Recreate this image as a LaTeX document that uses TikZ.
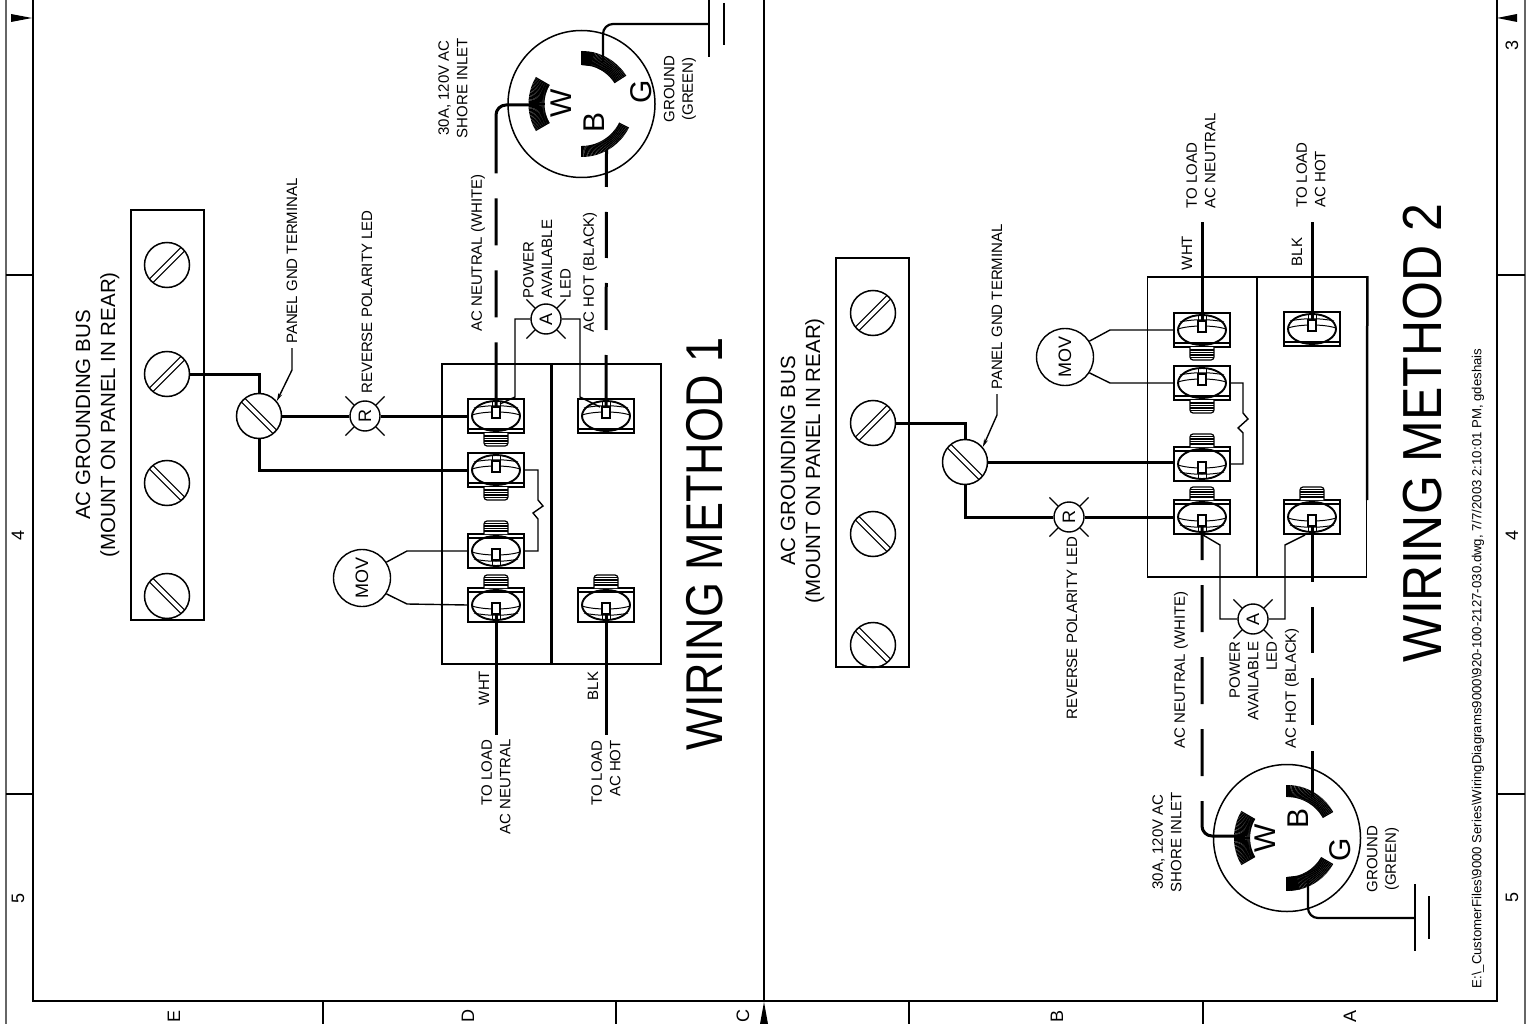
\documentclass[tikz,border=0pt]{standalone}
\usepackage{fontspec}
\setmainfont{Liberation Sans}
\usetikzlibrary{arrows.meta}
\tikzset{
  wire/.style={line width=3pt},
  fine/.style={line width=1.4pt},
  earth/.style={line width=2.2pt},
  busbox/.style={draw, line width=1.6pt, minimum width=73pt},
  panelbox/.style={draw, line width=1.6pt, minimum width=219pt, minimum height=300pt},
  termbox/.style={draw, line width=1.6pt, minimum width=56pt, minimum height=34pt, inner sep=0pt},
  busscrew/.style={circle, draw, line width=1.5pt, minimum size=45pt, inner sep=0pt},
  slotrise/.style={path picture={
      \draw[shift={(path picture bounding box.center)}, line width=6.2pt] (-20pt,-20pt) to (20pt,20pt);
      \draw[shift={(path picture bounding box.center)}, line width=3.6pt, white] (-20pt,-20pt) to (20pt,20pt);}},
  slotfall/.style={path picture={
      \draw[shift={(path picture bounding box.center)}, line width=6.2pt] (-20pt,20pt) to (20pt,-20pt);
      \draw[shift={(path picture bounding box.center)}, line width=3.6pt, white] (-20pt,20pt) to (20pt,-20pt);}},
  led/.style={circle, draw, line width=1.4pt, minimum size=30pt, inner sep=0pt, font=\fontsize{18}{18}\selectfont},
  mov/.style={circle, draw, line width=1.4pt, minimum size=57pt, inner sep=0pt, font=\fontsize{18}{18}\selectfont},
  inlet/.style={circle, draw, line width=1.5pt, minimum size=147pt, inner sep=0pt},
  lbl/.style={rotate=90, inner sep=0pt, font=\fontsize{15}{18.5}\selectfont},
  buslbl/.style={rotate=90, inner sep=0pt, align=center, font=\fontsize{20.5}{25}\selectfont},
  pinlbl/.style={rotate=90, inner sep=0pt, font=\fontsize{30}{30}\selectfont},
  gridlbl/.style={rotate=90, inner sep=0pt, font=\fontsize{18}{18}\selectfont},
  hatch/.style={line width=1.3pt},
  pics/termhead/.style={code={
      \draw[line width=1.2pt] (-28,13) -- (28,13);
      \draw[line width=1.9pt] (0,0) ellipse [x radius=24, y radius=15];
      \draw[line width=1pt] (-22,-8) .. controls (-10,-11) and (10,-11) .. (22,-8);
      \draw[line width=1pt] (-24,-1) .. controls (-12,-5) and (12,-5) .. (24,-1);
      \draw[line width=1pt] (-4,-15) -- (-4,-9) (4,-15) -- (4,-9);
      \draw[line width=1.2pt, fill=white] (-4,-9) rectangle (4,2);
  }},
  pics/termthread/.style={code={
      \draw[line width=1.2pt, fill=white, rounded corners=3pt] (-12,17) -- (-12,30) -- (12,30) -- (12,17);
      \foreach \t in {20,22.5,25,27.5} \draw[line width=1.2pt] (-12,\t) -- (12,\t);
  }}
}
\begin{document}
\begin{tikzpicture}[x=1pt, y=-1pt]
  \useasboundingbox (0,0) rectangle (1526,1024);

  % sheet border
  \draw[line width=2pt] (33,0) -- (33,1001) -- (1497,1001) -- (1497,0);
  \draw[line width=1.1pt] (764,0) -- (764,1001);
  \draw[line width=1.3pt, black!60] (6,0) -- (6,1024);
  \draw[line width=1.3pt, black!60] (1525,0) -- (1525,1024);
  \foreach \yy in {275,794} {
    \draw[line width=1.2pt] (6,\yy) -- (33,\yy);
    \draw[line width=1.2pt] (1497,\yy) -- (1525,\yy);
  }
  \foreach \xx in {323,616,909,1203} \draw[line width=1.2pt] (\xx,1001) -- (\xx,1024);
  \fill (11,14) -- (32,18) -- (11,22) -- cycle;
  \fill (1517,14) -- (1497,18) -- (1517,22) -- cycle;
  \fill (760,1024) -- (764,1002) -- (768,1024) -- cycle;
  \node[gridlbl] (E5) at (18,898) {5};
  \node[gridlbl] (E4) at (18,535) {4};
  \node[gridlbl] (W3) at (1512,45) {3};
  \node[gridlbl] (W4) at (1512,535) {4};
  \node[gridlbl] (W5) at (1512,897) {5};
  \node[gridlbl] (SE) at (174,1016) {E};
  \node[gridlbl] (SD) at (468,1016) {D};
  \node[gridlbl] (SC) at (743,1016) {C};
  \node[gridlbl] (SB) at (1057,1016) {B};
  \node[gridlbl] (SA) at (1350,1016) {A};

  % method 1
  \node[busbox, minimum height=410pt] (BusL) at (167.5,415) {};
  \node[busscrew, slotrise] (BusLa) at (167,265) {};
  \node[busscrew, slotrise] (BusLb) at (167,374) {};
  \node[busscrew, slotfall] (BusLc) at (167,483) {};
  \node[busscrew, slotfall] (BusLd) at (167,596) {};
  \node[busscrew, slotfall] (GndL) at (259,416) {};
  \node[panelbox] (PanelL) at (551.5,514) {};
  \node[termbox] (WhtLa) at (496,416) {};
  \node[termbox] (WhtLb) at (496,470) {};
  \node[termbox] (WhtLc) at (496,551) {};
  \node[termbox] (WhtLd) at (496,605) {};
  \node[termbox] (BlkLa) at (606,416) {};
  \node[termbox] (BlkLb) at (606,605) {};
  \node[led] (RedL) at (365,416) {\rotatebox{90}{R}};
  \node[led] (AmbL) at (546,319) {\rotatebox{90}{A}};
  \node[mov] (MovL) at (362,578) {\rotatebox{90}{MOV}};
  \node[inlet] (InL) at (581.5,104) {};
  \coordinate (InLw) at (530,105);
  \coordinate (InLb) at (606.5,150);
  \coordinate (InLg) at (603,62);
  \coordinate (EarthL) at (709,24);
  \coordinate (EndLw) at (496,735);
  \coordinate (EndLb) at (606,735);

  \draw[line width=2.5pt] (PanelL.north) to (PanelL.south);
  \draw[wire] (BusLb.east) -| (GndL.north);
  \draw[wire] (GndL.south) |- (WhtLb.west);
  \draw[wire] (GndL.east) to (RedL.west);
  \draw[wire] (RedL.east) to (WhtLa.west);
  \draw[wire, rounded corners=10pt, dash pattern=on 98pt off 25pt on 47pt off 25pt on 47pt off 25pt on 100pt] (InLw) -| (WhtLa.center);
  \draw[wire, dash pattern=on 37pt off 25pt on 46pt off 25pt on 47pt off 25pt on 100pt] (InLb) to (BlkLa.center);
  \draw[wire] (WhtLd.center) to (EndLw);
  \draw[wire] (BlkLb.center) to (EndLb);
  \draw[earth, rounded corners=10pt] (InLg) |- (EarthL);
  \draw[line width=1.8pt] (709,0) -- (709,57);
  \draw[line width=1.8pt] (724,3) -- (724,45);
  \draw[fine] (AmbL.west) -- (515,319) -- (515,397) -- (500,404);
  \draw[fine] (AmbL.east) -- (580,319) -- (580,397) -- (600,407);
  \draw[fine] (WhtLb.east) -- (538,470) -- (538,500) -- (543,506) -- (533,513) -- (538,519) -- (538,551) -- (WhtLc.east);
  \draw[fine] (MovL.33) -- (407,551) -- (WhtLc.west);
  \draw[fine] (MovL.-33) -- (407,604) -- (WhtLd.west);
  \coordinate (TagL) at (292,348);
  \draw[fine, -{Stealth[length=8pt,width=4pt]}] (TagL) -- (292,370) -- (GndL.40);

  \foreach \t in {WhtLa,WhtLb,BlkLa} \pic at (\t) {termhead};
  \foreach \t in {WhtLc,WhtLd,BlkLb} \pic[yscale=-1] at (\t) {termhead};
  \foreach \t in {WhtLa,WhtLb} \pic at (\t) {termthread};
  \foreach \t in {WhtLc,WhtLd,BlkLb} \pic[yscale=-1] at (\t) {termthread};

  \node[buslbl] (BusLtxt) at (97.5,415) {AC GROUNDING BUS\\(MOUNT ON PANEL IN REAR)};
  \node[lbl] (TagLtxt) at (292,261) {PANEL GND TERMINAL};
  \node[lbl] (RedLtxt) at (367,302) {REVERSE POLARITY LED};
  \node[lbl] (NeuLtxt) at (478,253) {AC NEUTRAL (WHITE)};
  \node[lbl, align=left] (AmbLtxt) at (547,259) {POWER\\AVAILABLE\\LED};
  \node[lbl] (HotLtxt) at (590,272) {AC HOT (BLACK)};
  \node[lbl, align=center] (ShoLtxt) at (453,88) {30A, 120V AC\\SHORE INLET};
  \node[lbl, align=center] (GrnLtxt) at (680,89) {GROUND\\(GREEN)};
  \node[lbl] (WhtLtxt) at (484,688) {WHT};
  \node[lbl] (BlkLtxt) at (593,686) {BLK};
  \node[lbl, align=right] (LdaLtxt) at (496,787) {TO LOAD\\AC NEUTRAL};
  \node[lbl, align=right] (LdbLtxt) at (606,773) {TO LOAD\\AC HOT};
  \node[pinlbl] (PinLw) at (561,103) {W};
  \node[pinlbl] (PinLb) at (594,122) {B};
  \node[pinlbl] (PinLg) at (641,92) {G};
  \node[rotate=90, inner sep=0pt, font=\fontsize{45}{45}\selectfont] (TitleL) at (705,544) {\scalebox{1}[1.15]{WIRING METHOD 1}};

  % method 2
  \node[busbox, minimum height=409pt] (BusR) at (872.5,462.5) {};
  \node[busscrew, slotrise] (BusRa) at (873,313) {};
  \node[busscrew, slotrise] (BusRb) at (873,423) {};
  \node[busscrew, slotfall] (BusRc) at (873,534) {};
  \node[busscrew, slotfall] (BusRd) at (873,645) {};
  \node[busscrew, slotfall] (GndR) at (965,462) {};
  \node[panelbox] (PanelR) at (1257,427) {};
  \node[termbox] (WhtRa) at (1202,330) {};
  \node[termbox] (WhtRb) at (1202,383) {};
  \node[termbox] (WhtRc) at (1202,464) {};
  \node[termbox] (WhtRd) at (1202,517) {};
  \node[termbox] (BlkRa) at (1312,329) {};
  \node[termbox] (BlkRb) at (1312,517) {};
  \node[led] (RedR) at (1069,517) {\rotatebox{90}{R}};
  \node[led] (AmbR) at (1253,619) {\rotatebox{90}{A}};
  \node[mov] (MovR) at (1065,357) {\rotatebox{90}{MOV}};
  \node[inlet] (InR) at (1287,838) {};
  \coordinate (InRw) at (1237,836);
  \coordinate (InRb) at (1312,797);
  \coordinate (InRg) at (1308,881);
  \coordinate (EarthR) at (1415,918);
  \coordinate (EndRw) at (1202,222);
  \coordinate (EndRb) at (1312,222);

  \draw[line width=2.5pt] (PanelR.north) to (PanelR.south);
  \draw[line width=2.5pt] (PanelR.north east) -- (1367,500);
  \draw[wire] (BusRb.east) -| (GndR.north);
  \draw[wire] (GndR.south) |- (RedR.west);
  \draw[wire] (RedR.east) to (WhtRd.west);
  \draw[wire] (GndR.east) -- (GndR.east -| WhtRc.west);
  \draw[wire, rounded corners=10pt, dash pattern=on 43pt off 25pt on 47pt off 25pt on 47pt off 25pt on 47pt off 25pt on 100pt] (WhtRd.center) |- (InRw);
  \draw[wire, dash pattern=on 65pt off 25pt on 46pt off 25pt on 47pt off 26pt on 100pt] (BlkRb.center) to (InRb);
  \draw[wire] (WhtRa.center) to (EndRw);
  \draw[wire] (BlkRa.center) to (EndRb);
  \draw[earth, rounded corners=10pt] (InRg) |- (EarthR);
  \draw[line width=1.8pt] (1415,884) -- (1415,951);
  \draw[line width=1.8pt] (1429,896) -- (1429,939);
  \draw[fine] (AmbR.west) -- (1220,619) -- (1220,545) -- (1203,535);
  \draw[fine] (AmbR.east) -- (1285,619) -- (1285,545) -- (1305,535);
  \draw[fine] (WhtRb.east) -- (1243,383) -- (1243,413) -- (1248,419) -- (1238,428) -- (1243,433) -- (1243,464) -- (WhtRc.east);
  \draw[fine] (MovR.33) -- (1110,330) -- (WhtRa.west);
  \draw[fine] (MovR.-33) -- (1110,383) -- (WhtRb.west);
  \coordinate (TagR) at (997,394);
  \draw[fine, -{Stealth[length=8pt,width=4pt]}] (TagR) -- (997,415) -- (GndR.40);

  \foreach \t in {WhtRa,WhtRb,BlkRa} \pic at (\t) {termhead};
  \foreach \t in {WhtRc,WhtRd,BlkRb} \pic[yscale=-1] at (\t) {termhead};
  \foreach \t in {WhtRa,WhtRb} \pic at (\t) {termthread};
  \foreach \t in {WhtRc,WhtRd,BlkRb} \pic[yscale=-1] at (\t) {termthread};

  \node[buslbl] (BusRtxt) at (802.5,461) {AC GROUNDING BUS\\(MOUNT ON PANEL IN REAR)};
  \node[lbl] (TagRtxt) at (997,307) {PANEL GND TERMINAL};
  \node[lbl] (RedRtxt) at (1072,628) {REVERSE POLARITY LED};
  \node[lbl] (NeuRtxt) at (1181,670) {AC NEUTRAL (WHITE)};
  \node[lbl, align=right] (AmbRtxt) at (1253,681) {POWER\\AVAILABLE\\LED};
  \node[lbl] (HotRtxt) at (1292,688) {AC HOT (BLACK)};
  \node[lbl, align=center] (ShoRtxt) at (1167,842) {30A, 120V AC\\SHORE INLET};
  \node[lbl, align=center] (GrnRtxt) at (1383,859) {GROUND\\(GREEN)};
  \node[lbl] (WhtRtxt) at (1187,253) {WHT};
  \node[lbl] (BlkRtxt) at (1297,252) {BLK};
  \node[lbl, align=left] (LdaRtxt) at (1201,161) {TO LOAD\\AC NEUTRAL};
  \node[lbl, align=left] (LdbRtxt) at (1311,175) {TO LOAD\\AC HOT};
  \node[pinlbl] (PinRw) at (1265,838) {W};
  \node[pinlbl] (PinRb) at (1298,818) {B};
  \node[pinlbl] (PinRg) at (1340,850) {G};
  \node[rotate=90, inner sep=0pt, font=\fontsize{50}{50}\selectfont] (TitleR) at (1423,433) {\scalebox{1}[1.1]{WIRING METHOD 2}};
  \node[rotate=90, inner sep=0pt, font=\fontsize{13.2}{13.2}\selectfont] (FileR) at (1478,668.5) {E:\textbackslash\_CustomerFiles\textbackslash 9000 Series\textbackslash WiringDiagrams9000\textbackslash 920-100-2127-030.dwg, 7/7/2003 2:10:01 PM, gdeshais};

  % inlet blades
  \foreach \o/\s/\e/\r in {InL/150/210/37, InL/-90/-33/39, InL/27/90/42, InR/150/210/37, InR/-90/-30/41, InR/30/90/39} {
    \pgfmathsetmacro\nxt{\s+1.5}
    \foreach \a in {\s,\nxt,...,\e} \draw[hatch, shift={(\o.center)}] (\a:\r) -- (\a:53);
  }
  \fill[shift={(InL.center)}] (-90:39) -- (-90:53) -- (-76:53) -- (-76:39) -- cycle;
  \fill[shift={(InR.center)}] (90:39) -- (90:53) -- (76:53) -- (76:39) -- cycle;

  % led rays
  \foreach \l in {RedL,AmbL,RedR,AmbR}
    \foreach \a in {45,135,225,315} \draw[line width=1.2pt] (\l.\a) -- ++(\a:12pt);
\end{tikzpicture}
\end{document}
